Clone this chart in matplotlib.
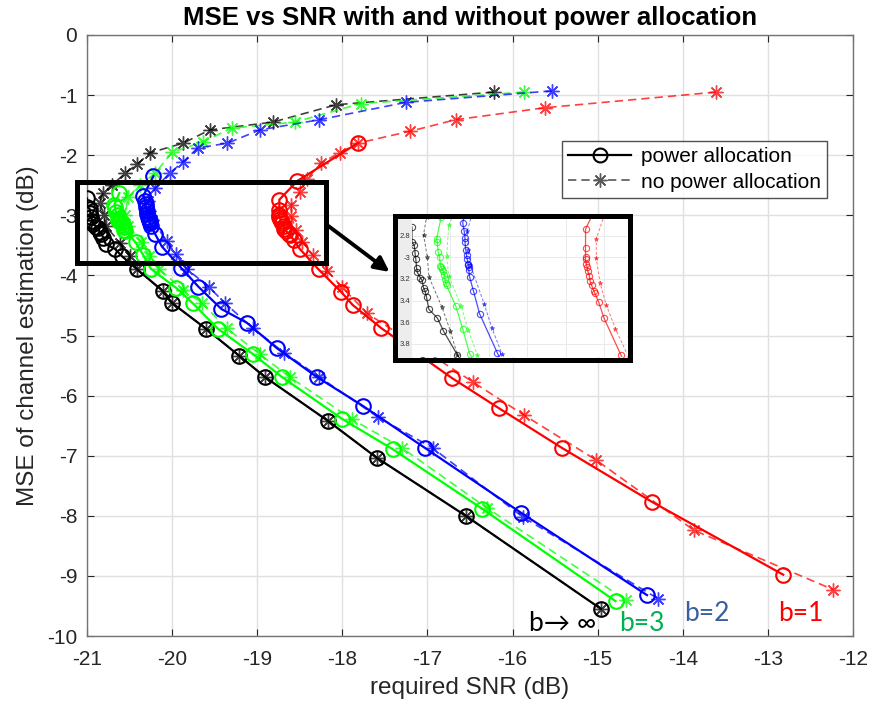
import matplotlib
matplotlib.use("Agg")
import matplotlib.pyplot as plt
from matplotlib.patches import Rectangle
from matplotlib.lines import Line2D

plt.rcParams['font.family'] = ['Liberation Sans', 'DejaVu Sans']
plt.rcParams['axes.unicode_minus'] = False

# ---------------- data ----------------
title = "MSE vs SNR with and without power allocation"
xlabel = "required SNR (dB)"
ylabel = "MSE of channel estimation (dB)"
x_ticks = [-21, -20, -19, -18, -17, -16, -15, -14, -13, -12]
y_ticks = [0, -1, -2, -3, -4, -5, -6, -7, -8, -9, -10]
legend_labels = ["power allocation", "no power allocation"]
curve_labels = ["b\u2192 \u221e", "b=3", "b=2", "b=1"]

# b -> infinity
inf_pa_x = [-21.00, -21.00, -20.97, -20.96, -20.95, -20.94, -20.93, -20.89, -20.87, -20.85, -20.83, -20.81, -20.78,
            -20.67, -20.59, -20.41, -20.11, -20.00, -19.60, -19.21, -18.91, -18.17, -17.59, -16.55, -14.96]
inf_pa_y = [-2.72, -2.86, -2.89, -2.96, -3.02, -3.10, -3.14, -3.19, -3.21, -3.28, -3.31, -3.37, -3.48,
            -3.56, -3.68, -3.90, -4.26, -4.46, -4.89, -5.34, -5.69, -6.42, -7.04, -8.00, -9.55]
inf_np_x = [-16.22, -18.07, -18.82, -19.56, -19.87, -20.26, -20.41, -20.55, -20.71, -20.81, -20.85, -20.80, -20.78,
            -20.61, -20.50, -20.41, -20.11, -20.00, -19.60, -19.21, -18.91, -18.17, -17.59, -16.55, -14.96]
inf_np_y = [-0.95, -1.16, -1.45, -1.58, -1.80, -1.96, -2.15, -2.30, -2.50, -2.63, -2.79, -3.00, -3.18,
            -3.46, -3.68, -3.90, -4.26, -4.46, -4.89, -5.34, -5.69, -6.42, -7.04, -8.00, -9.55]

# b = 3
b3_pa_x = [-20.62, -20.68, -20.67, -20.66, -20.64, -20.63, -20.62, -20.61, -20.59, -20.58, -20.57, -20.56, -20.55,
           -20.43, -20.34, -20.25, -19.95, -19.76, -19.46, -19.05, -18.71, -18.00, -17.41, -16.36, -14.79]
b3_pa_y = [-2.63, -2.83, -2.86, -2.95, -3.00, -3.08, -3.09, -3.11, -3.13, -3.16, -3.20, -3.24, -3.26,
           -3.45, -3.66, -3.89, -4.21, -4.46, -4.89, -5.31, -5.69, -6.39, -6.89, -7.88, -9.42]
b3_np_x = [-15.87, -17.78, -18.56, -19.30, -19.64, -20.00, -20.20, -20.38, -20.52, -20.55, -20.52, -20.36,
           -20.27, -20.15, -19.87, -19.65, -19.36, -18.97, -18.62, -17.89, -17.30, -16.30, -14.67]
b3_np_y = [-0.95, -1.14, -1.45, -1.55, -1.78, -1.95, -2.30, -2.50, -2.70, -2.99, -3.17, -3.45,
           -3.67, -3.90, -4.24, -4.46, -4.88, -5.31, -5.69, -6.39, -6.87, -7.87, -9.40]

# b = 2
b2_pa_x = [-20.22, -20.34, -20.32, -20.31, -20.31, -20.30, -20.29, -20.28, -20.27, -20.27, -20.26, -20.26, -20.25,
           -20.20, -20.12, -19.89, -19.69, -19.42, -19.12, -18.77, -18.30, -17.76, -17.03, -15.90, -14.42]
b2_pa_y = [-2.35, -2.68, -2.76, -2.82, -2.86, -2.93, -2.98, -3.02, -3.06, -3.07, -3.09, -3.12, -3.18,
           -3.31, -3.52, -3.88, -4.19, -4.56, -4.79, -5.21, -5.69, -6.17, -6.87, -7.95, -9.32]
b2_np_x = [-15.54, -17.25, -18.27, -18.97, -19.35, -19.70, -19.87, -20.03, -20.20, -20.28, -20.27, -20.24,
           -20.06, -19.96, -19.83, -19.57, -19.38, -19.05, -18.68, -18.27, -17.58, -16.94, -15.88, -14.29]
b2_np_y = [-0.93, -1.12, -1.41, -1.58, -1.80, -1.88, -2.11, -2.30, -2.55, -2.76, -2.93, -3.07,
           -3.43, -3.65, -3.89, -4.19, -4.46, -4.88, -5.29, -5.69, -6.36, -6.87, -8.02, -9.38]

# b = 1
b1_pa_x = [-17.82, -18.53, -18.74, -18.74, -18.74, -18.74, -18.73, -18.72, -18.71, -18.69, -18.68, -18.66, -18.63,
           -18.62, -18.57, -18.50, -18.28, -18.01, -17.88, -17.54, -16.71, -16.16, -15.42, -14.36, -12.82]
b1_pa_y = [-1.80, -2.43, -2.74, -2.91, -3.00, -3.02, -3.06, -3.09, -3.13, -3.17, -3.22, -3.26, -3.31,
           -3.33, -3.41, -3.56, -3.90, -4.28, -4.49, -4.88, -5.71, -6.21, -6.87, -7.77, -8.98]
b1_np_x = [-13.61, -15.62, -16.67, -17.20, -17.82, -18.03, -18.25, -18.42, -18.50, -18.60, -18.60, -18.55,
           -18.47, -18.35, -18.18, -18.00, -17.71, -16.47, -15.87, -15.02, -13.87, -12.23]
b1_np_y = [-0.95, -1.21, -1.41, -1.60, -1.80, -1.96, -2.13, -2.40, -2.62, -2.83, -3.01, -3.24,
           -3.44, -3.66, -3.92, -4.20, -4.63, -5.77, -6.32, -7.07, -8.24, -9.23]

series = [
    ((inf_pa_x, inf_pa_y), (inf_np_x, inf_np_y), 'k'),
    ((b3_pa_x, b3_pa_y), (b3_np_x, b3_np_y), (0, 1, 0)),
    ((b2_pa_x, b2_pa_y), (b2_np_x, b2_np_y), (0, 0, 1)),
    ((b1_pa_x, b1_pa_y), (b1_np_x, b1_np_y), (1, 0, 0)),
]
label_colors = ['k', '#00B050', '#3A5FA0', '#FF0000']

W, H = 869, 711
fig = plt.figure(figsize=(W / 100, H / 100), dpi=100)


def fx(px):
    return px / W


def fy(py):
    return 1 - py / H


ax = fig.add_axes([fx(87), fy(636), fx(853) - fx(87), fy(35) - fy(636)])
STAR = (8, 2, 0)

for (pa, npa, c) in series:
    ax.plot(npa[0], npa[1], linestyle=(0, (5, 3)), color=c, lw=1.2, alpha=0.75,
            marker=STAR, markersize=10, markeredgewidth=1.0, zorder=3)
    ax.plot(pa[0], pa[1], linestyle='-', color=c, lw=1.6,
            marker='o', markersize=10.5, markerfacecolor='none', markeredgewidth=1.5, zorder=4)

ax.set_xlim(-21, -12)
ax.set_ylim(-10, 0)
ax.set_xticks(x_ticks)
ax.set_yticks(y_ticks)
ax.grid(True, color='0.88', lw=1.0)
ax.set_axisbelow(True)
ax.tick_params(direction='in', length=5, top=True, right=True, labelsize=15, colors='0.15')
ax.tick_params(axis='x', pad=10)
ax.tick_params(axis='y', pad=7)
for s in ax.spines.values():
    s.set_color('0.45')
    s.set_linewidth(1.0)
ax.set_title(title, fontsize=18.5, fontweight='bold', pad=7)
ax.set_xlabel(xlabel, fontsize=17.5, color='0.15', labelpad=6)
ax.set_ylabel(ylabel, fontsize=17.5, color='0.15', labelpad=6)

# zoom rectangle on main axes
ax.add_patch(Rectangle((-21.117, -3.80), 2.93, 1.36, fill=False, lw=3.6, edgecolor='k',
                       clip_on=False, zorder=6))
ax.annotate("", xy=(-17.42, -3.97), xytext=(-18.19, -3.15),
            arrowprops=dict(arrowstyle='-|>', lw=2.8, color='k', mutation_scale=22),
            annotation_clip=False, zorder=6)

# legend
h1 = Line2D([], [], color='k', lw=1.6, marker='o', markersize=10, markerfacecolor='none', markeredgewidth=1.5)
h2 = Line2D([], [], color='0.35', lw=1.2, linestyle=(0, (5, 3)), marker=STAR, markersize=10)
leg = ax.legend([h1, h2], legend_labels, loc='upper left',
                bbox_to_anchor=(fx(562), fy(141)), bbox_transform=fig.transFigure,
                fontsize=15, frameon=True, fancybox=False, edgecolor='0.15',
                handlelength=3.0, handletextpad=0.5, borderpad=0.3, labelspacing=0.3, borderaxespad=0)
leg.get_frame().set_linewidth(1.0)

# curve labels
label_pos = [(-15.81, -9.80), (-14.75, -9.80), (-13.98, -9.63), (-12.88, -9.63)]
for txt, (lx, ly), col in zip(curve_labels, label_pos, label_colors):
    ax.text(lx, ly, txt, color=col, fontsize=19, family=['Lato', 'DejaVu Sans'],
            ha='left', va='center', zorder=7)

# inset
fig.patches.append(Rectangle((fx(397), fy(357)), fx(412) - fx(397), fy(218) - fy(357),
                             transform=fig.transFigure, color='0.93', zorder=5))
axin = fig.add_axes([fx(412), fy(357), fx(627) - fx(412), fy(218) - fy(357)], zorder=6)
for (pa, npa, c) in series:
    axin.plot(npa[0], npa[1], linestyle=(0, (3, 2)), color=c, lw=0.7, alpha=0.55,
              marker='*', markersize=3.5, markeredgewidth=0.5, zorder=3)
    axin.plot(pa[0], pa[1], linestyle='-', color=c, lw=0.9, alpha=0.7,
              marker='o', markersize=4.5, markerfacecolor='none', markeredgewidth=0.8, zorder=4)
axin.set_xlim(-21.0, -18.2)
axin.set_ylim(-3.92, -2.637)
axin.set_xticks([-20.5, -20, -19.5, -19, -18.5])
axin.set_yticks([-3.8, -3.6, -3.4, -3.2, -3.0, -2.8])
axin.set_yticklabels(["3.8", "3.6", "3.4", "3.2", "-3", "2.8"])
axin.set_xticklabels([])
axin.tick_params(direction='in', length=0, labelsize=5.5, colors='0.2', pad=1)
axin.grid(True, color='0.9', lw=0.6)
axin.set_axisbelow(True)
for s in axin.spines.values():
    s.set_visible(False)
fig.patches.append(Rectangle((fx(395), fy(360)), fx(629.5) - fx(395), fy(215.5) - fy(360),
                             transform=fig.transFigure, fill=False, lw=3.6, edgecolor='k', zorder=10))

fig.savefig("out.png", dpi=100)
